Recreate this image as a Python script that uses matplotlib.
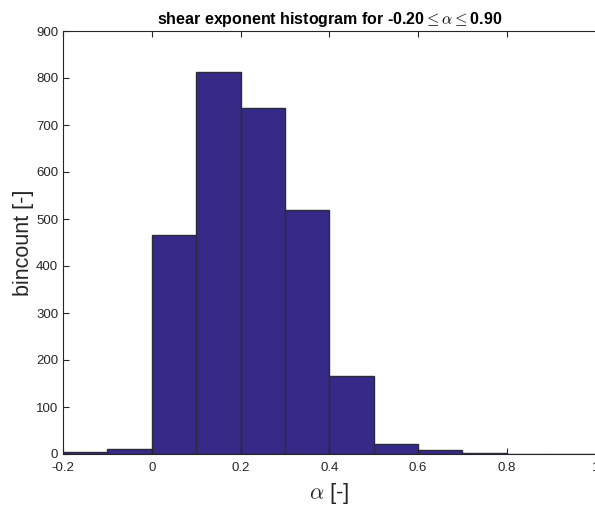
import numpy as np
import matplotlib.pyplot as plt

plt.rcParams['font.family'] = ['Liberation Sans', 'DejaVu Sans']
plt.rcParams['mathtext.fontset'] = 'cm'

# histogram of shear exponent alpha
bin_edges = [-0.2, -0.1, 0.0, 0.1, 0.2, 0.3, 0.4, 0.5, 0.6, 0.7, 0.8, 0.9, 1.0]
counts = [5, 11, 466, 812, 736, 520, 165, 22, 9, 2, 1, 0]
xticks = [-0.2, 0, 0.2, 0.4, 0.6, 0.8, 1]
xticklabels = ['-0.2', '0', '0.2', '0.4', '0.6', '0.8', '1']
yticks = [0, 100, 200, 300, 400, 500, 600, 700, 800, 900]

fig = plt.figure(figsize=(5.95, 5.09), dpi=100)
ax = fig.add_axes([63 / 595, 55 / 509, 1 - 63 / 595 + 0.001, (454 - 31) / 509])

lefts = bin_edges[:-1]
widths = np.diff(bin_edges)
ax.bar(lefts, counts, width=widths, align='edge', color='#352a87',
       edgecolor='#2b2b3a', linewidth=1.0)

ax.set_xlim(-0.2, 1.0)
ax.set_ylim(0, 900)
ax.set_xticks(xticks)
ax.set_xticklabels(xticklabels)
ax.set_yticks(yticks)
ax.tick_params(direction='in', labelsize=9.5, length=4, top=True, right=False,
               colors='#262626')
ax.tick_params(axis='x', pad=6)
for s in ax.spines.values():
    s.set_color('#262626')
    s.set_linewidth(0.8)

ax.set_xlabel(r'$\alpha$ [-]', fontsize=16, color='#262626', labelpad=5)
ax.set_ylabel('bincount [-]', fontsize=15.5, color='#262626', labelpad=1)
ax.set_title(r'shear exponent histogram for -0.20$\leq\alpha\leq$0.90',
             fontsize=11.5, fontweight='bold', pad=5)

fig.savefig('out.png', dpi=100)
